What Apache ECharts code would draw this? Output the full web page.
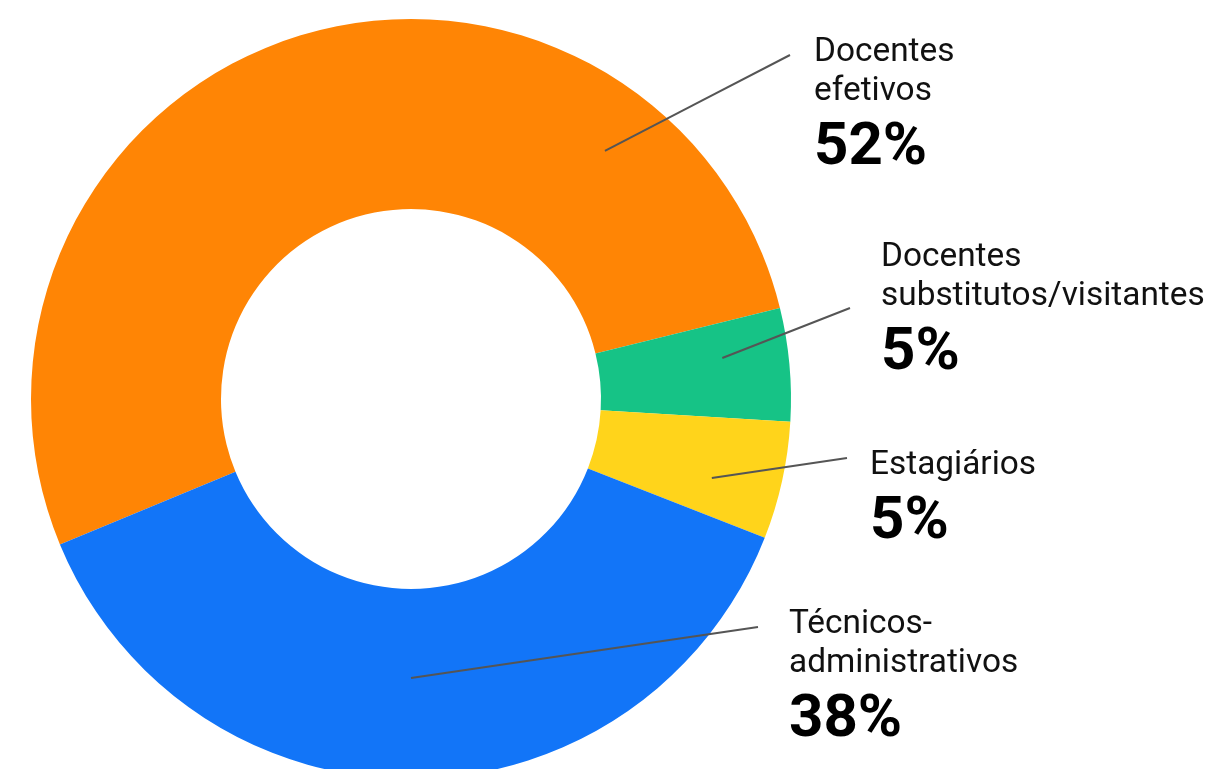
<!DOCTYPE html>
<html>
<head>
<meta charset="utf-8">
<script src="https://cdn.jsdelivr.net/npm/echarts@6/dist/echarts.min.js"></script>
<style>
  html, body { margin: 0; padding: 0; background: #ffffff; }
  #chart { width: 1209px; height: 769px; }
</style>
</head>
<body>
<div id="chart"></div>
<script>
// ---- data ----
const categories = ['Docentes efetivos', 'Docentes substitutos/visitantes', 'Estagiários', 'Técnicos-administrativos'];
const labelLines = [['Docentes', 'efetivos'], ['Docentes', 'substitutos/visitantes'], ['Estagiários'], ['Técnicos-', 'administrativos']];
const values = [52.4, 4.8, 5.0, 37.8];

// ---- styles / layout ----
const colors = ['#FF8505', '#16C386', '#FFD41B', '#1275F8'];
const pieCenter = [411, 399];
const pieRadius = [190, 380];
// label box top-left, guide-line start (angle deg, radius), guide-line end
const labelPlacement = [
  { box: [814, 33],  start: [52, 315],  end: [790, 55] },
  { box: [881, 238], start: [7.5, 314], end: [850, 308] },
  { box: [870, 446], start: [-14.7, 311], end: [847, 458] },
  { box: [789, 605], start: [-90, 279], end: [758, 627] }
];

const chart = echarts.init(document.getElementById('chart'), null, { renderer: 'canvas' });

const pieData = categories.map((c, i) => ({ name: c, value: values[i], itemStyle: { color: colors[i] } }));
const labelData = categories.map((c, i) => ({ name: c, value: values[i] }));

const option = {
  animation: false,
  backgroundColor: '#ffffff',
  series: [{
    // the ring itself
    type: 'pie',
    z: 1,
    center: pieCenter,
    radius: pieRadius,
    startAngle: 202.5,
    clockwise: true,
    silent: true,
    data: pieData,
    label: { show: false },
    labelLine: { show: false }
  }, {
    // transparent copy that carries labels and guide lines above the ring
    type: 'pie',
    z: 5,
    center: pieCenter,
    radius: pieRadius,
    startAngle: 202.5,
    clockwise: true,
    avoidLabelOverlap: false,
    silent: true,
    data: labelData,
    itemStyle: { color: 'rgba(0,0,0,0)' },
    label: {
      show: true,
      position: 'outside',
      fontFamily: 'Roboto',
      color: '#111111',
      formatter: (p) => {
        const lines = labelLines[p.dataIndex].map(s => '{name|' + s + '}');
        lines.push('{pct|' + Math.round(p.percent) + '%}');
        return lines.join('\n');
      },
      rich: {
        name: { fontFamily: 'Roboto', fontSize: 33.4, lineHeight: 39, color: '#111111' },
        pct: { fontFamily: 'Roboto', fontSize: 60, fontWeight: 'bold', lineHeight: 76, color: '#000000' }
      }
    },
    labelLine: {
      show: true,
      showAbove: true,
      smooth: false,
      lineStyle: { color: '#555555', width: 2 }
    },
    labelLayout: (params) => {
      const lp = labelPlacement[params.dataIndex];
      const a = lp.start[0] * Math.PI / 180;
      const sx = pieCenter[0] + lp.start[1] * Math.cos(a);
      const sy = pieCenter[1] - lp.start[1] * Math.sin(a);
      return {
        x: lp.box[0],
        y: lp.box[1],
        align: 'left',
        verticalAlign: 'top',
        labelLinePoints: [[sx, sy], [(sx + lp.end[0]) / 2, (sy + lp.end[1]) / 2], [lp.end[0], lp.end[1]]]
      };
    }
  }]
};
chart.setOption(option);
</script>
</body>
</html>
